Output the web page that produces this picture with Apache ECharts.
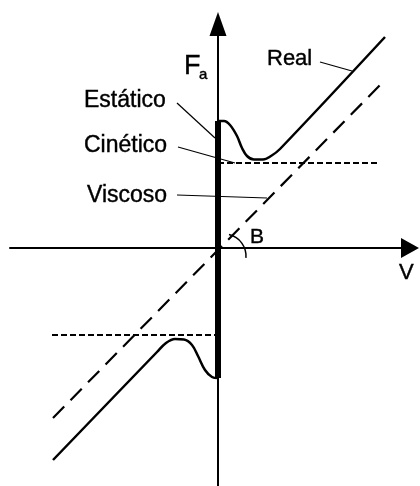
<!DOCTYPE html>
<html>
<head>
<meta charset="utf-8">
<script src="https://cdn.jsdelivr.net/npm/echarts@6/dist/echarts.min.js"></script>
<style>
  html, body { margin: 0; padding: 0; background: #fff; }
  #chart { width: 420px; height: 486px; }
</style>
</head>
<body>
<div id="chart"></div>
<script>
// Friction force Fa versus velocity V (arbitrary units)
const realUpper = [[0, 12.7], [0.6, 12.7], [1.2, 12.3], [1.9, 11.2], [2.4, 10.0], [2.9, 9.2],
                   [3.6, 8.85], [4.5, 8.85], [5.3, 9.2], [6.2, 9.9], [16.7, 21.1]];
const realLower = [[0, -13.0], [-0.6, -12.9], [-1.3, -12.2], [-2.0, -10.8], [-2.6, -9.7], [-3.4, -9.15],
                   [-4.3, -9.1], [-5.2, -9.5], [-6.1, -10.4], [-16.5, -21.2]];
const viscous = [[-16.5, -17.0], [16.7, 16.8]];
const kineticUpper = [[0, 8.5], [16.2, 8.5]];
const kineticLower = [[-16.6, -8.7], [0, -8.7]];
const staticBar = [[0, 12.7], [0, -13.0]];

const FONT = '"Liberation Sans", Arial, sans-serif';
const chart = echarts.init(document.getElementById('chart'), null, { renderer: 'canvas' });

function label(text, x, y, size, align) {
  return { type: 'text', x: x, y: y, z: 10,
    style: { text: text, font: size + 'px ' + FONT, fill: '#000', stroke: '#000', lineWidth: 0.4,
             textAlign: align || 'left', textVerticalAlign: 'middle' } };
}
function leader(x1, y1, x2, y2) {
  return { type: 'line', z: 10, shape: { x1: x1, y1: y1, x2: x2, y2: y2 },
           style: { stroke: '#000', lineWidth: 1.2 } };
}

chart.setOption({
  animation: false,
  backgroundColor: '#fff',
  grid: { left: 10, right: 10, top: 24, bottom: 0, containLabel: false },
  xAxis: {
    type: 'value', min: -20.8, max: 19.2,
    axisLine: { onZero: true, symbol: ['none', 'triangle'], symbolSize: [20, 18],
                lineStyle: { color: '#000', width: 2 } },
    axisTick: { show: false }, axisLabel: { show: false }, splitLine: { show: false }
  },
  yAxis: {
    type: 'value', min: -23.8, max: 22.4,
    axisLine: { onZero: true, symbol: ['none', 'triangle'], symbolSize: [17, 24],
                lineStyle: { color: '#000', width: 2 } },
    axisTick: { show: false }, axisLabel: { show: false }, splitLine: { show: false }
  },
  series: [
    { name: 'Viscoso', type: 'line', data: viscous, showSymbol: false,
      lineStyle: { color: '#000', width: 2.2, type: [16, 9] } },
    { name: 'Cinético +', type: 'line', data: kineticUpper, showSymbol: false,
      lineStyle: { color: '#000', width: 2, type: [6, 3] } },
    { name: 'Cinético -', type: 'line', data: kineticLower, showSymbol: false,
      lineStyle: { color: '#000', width: 2, type: [6, 3] } },
    { name: 'Real +', type: 'line', data: realUpper, showSymbol: false, smooth: 0.35,
      lineStyle: { color: '#000', width: 2.5 } },
    { name: 'Real -', type: 'line', data: realLower, showSymbol: false, smooth: 0.35,
      lineStyle: { color: '#000', width: 2.5 } },
    { name: 'Estático', type: 'line', data: staticBar, showSymbol: false,
      lineStyle: { color: '#000', width: 6, cap: 'butt' } }
  ],
  graphic: [
    label('Real', 267, 59, 22),
    leader(320, 62, 352, 71),
    label('Estático', 84, 101, 23),
    leader(177, 103, 215, 138),
    label('Cinético', 84, 146, 23),
    leader(178, 147, 235, 163),
    label('Viscoso', 87, 196, 23),
    leader(177, 195, 267, 198),
    label('F', 184, 67, 27),
    label('a', 199, 75, 15),
    label('B', 250, 237, 21),
    label('V', 399, 273, 22),
    { type: 'arc', z: 10,
      shape: { cx: 224, cy: 256, r: 22, startAngle: -77 * Math.PI / 180, endAngle: 5 * Math.PI / 180, clockwise: true },
      style: { stroke: '#000', lineWidth: 1.5, fill: null } }
  ]
});
</script>
</body>
</html>
